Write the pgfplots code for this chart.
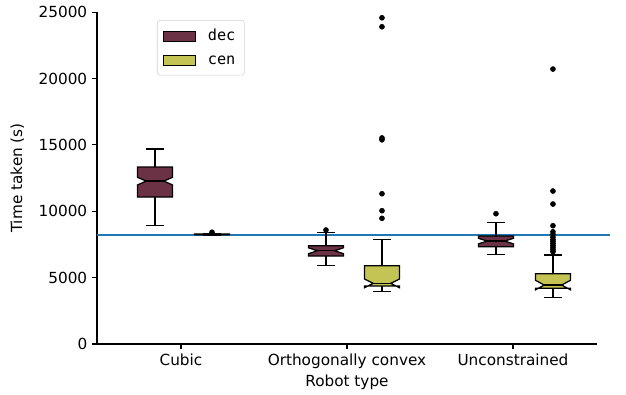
\documentclass[border=0pt]{standalone}
\usepackage{pgfplots}
\pgfplotsset{compat=1.18}
\usepackage{fontspec}
\setmainfont{DejaVu Sans}
\newfontfamily\monofont{DejaVu Sans Mono}
\definecolor{decc}{RGB}{107,50,70}
\definecolor{cenc}{RGB}{196,196,84}
\definecolor{mplblue}{RGB}{31,119,180}
\pgfplotsset{legend image code/.code={\draw[sharp corners,#1] (0pt,-3.6pt) rectangle (23pt,3.6pt);}}
% #1 fill, #2 centre, #3 lower whisker, #4 q1, #5 notch low, #6 median, #7 notch high, #8 q3, #9 upper whisker
\newcommand{\nbox}[9]{%
  \pgfmathsetmacro\bxL{#2-17.5}\pgfmathsetmacro\bxR{#2+17.5}%
  \pgfmathsetmacro\bxIL{#2-8.75}\pgfmathsetmacro\bxIR{#2+8.75}%
  \pgfmathsetmacro\bxCL{#2-9}\pgfmathsetmacro\bxCR{#2+9}%
  \addplot[black, line width=0.9pt, forget plot] coordinates {(#2,#3) (#2,#4)};
  \addplot[black, line width=0.9pt, forget plot] coordinates {(#2,#8) (#2,#9)};
  \addplot[black, line width=0.9pt, forget plot] coordinates {(\bxCL,#3) (\bxCR,#3)};
  \addplot[black, line width=0.9pt, forget plot] coordinates {(\bxCL,#9) (\bxCR,#9)};
  \addplot[fill=#1, draw=black, line width=0.9pt, forget plot] coordinates {(\bxL,#4) (\bxR,#4) (\bxR,#5) (\bxIR,#6) (\bxR,#7) (\bxR,#8) (\bxL,#8) (\bxL,#7) (\bxIL,#6) (\bxL,#5)} -- cycle;
  \addplot[black, line width=0.9pt, forget plot] coordinates {(\bxIL,#6) (\bxIR,#6)};
}
\begin{document}
\begin{tikzpicture}
\begin{axis}[
  scale only axis,
  width=360pt, height=239pt,
  xmin=97, xmax=597, ymin=0, ymax=25000,
  axis x line*=bottom, axis y line*=left,
  axis line style={line width=0.8pt, -},
  tick align=outside,
  major tick length=3.5pt,
  tick style={black, line width=0.8pt},
  xtick={181,347,513},
  xticklabels={Cubic, Orthogonally convex, Unconstrained},
  ytick={0,5000,10000,15000,20000,25000},
  scaled y ticks=false,
  yticklabel style={/pgf/number format/1000 sep={}, /pgf/number format/assume math mode=true},
  tick label style={font=\fontsize{11}{13}\selectfont},
  label style={font=\fontsize{11}{13}\selectfont},
  xlabel={Robot type},
  ylabel={Time taken (s)},
  xlabel style={yshift=2pt},
  ylabel style={yshift=3.5pt},
  clip=false,
  legend style={at={(0.12,0.976)}, anchor=north west, draw=black!18, rounded corners=2pt,
    font=\monofont\fontsize{11}{13}\selectfont, row sep=4pt, inner sep=4pt,
    nodes={inner sep=2.5pt},
    /tikz/every odd column/.append style={column sep=6pt}},
  legend cell align=left,
]
\addlegendimage{fill=decc, draw=black, line width=0.9pt}
\addlegendentry{dec}
\addlegendimage{fill=cenc, draw=black, line width=0.9pt}
\addlegendentry{cen}

% baseline
\addplot[mplblue, line width=1.1pt, forget plot] coordinates {(97,8230) (610,8230)};

% Cubic
\nbox{decc}{155}{8908}{11069}{11980}{12274}{12550}{13328}{14684}
\nbox{cenc}{212}{8175}{8235}{8240}{8262}{8285}{8290}{8340}
% Orthogonally convex
\nbox{decc}{326}{5896}{6627}{6800}{7026}{7250}{7402}{8381}
\nbox{cenc}{382}{3938}{4367}{4240}{4570}{4895}{5896}{7854}
% Unconstrained
\nbox{decc}{496}{6725}{7327}{7540}{7756}{7960}{8132}{9164}
\nbox{cenc}{553}{3487}{4194}{4080}{4440}{4800}{5294}{6702}

% outliers
\addplot[only marks, mark=*, mark size=1.8pt, black, forget plot] coordinates {
  (212,8420)
  (326,8584)
  (382,24571) (382,23893) (382,15520) (382,15380) (382,11318) (382,10038) (382,9465)
  (496,9812)
  (553,20708) (553,11521) (553,10542) (553,8908) (553,8450) (553,8250) (553,8050)
  (553,7850) (553,7700) (553,7550) (553,7400) (553,7250) (553,7100) (553,6950)
};
\end{axis}
\useasboundingbox (-69.84pt,-36pt) rectangle (380.9pt,247.7pt);
\end{tikzpicture}
\end{document}
